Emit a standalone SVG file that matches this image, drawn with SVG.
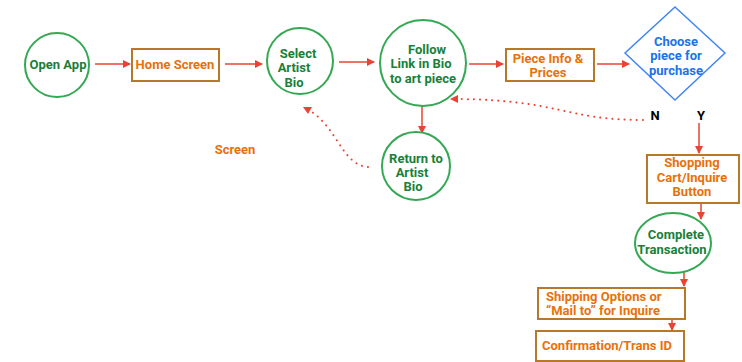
<svg xmlns="http://www.w3.org/2000/svg" width="742" height="362" viewBox="0 0 742 362">
<defs>
<marker id="ah" markerWidth="10" markerHeight="10" refX="7" refY="4" orient="auto" markerUnits="userSpaceOnUse">
<path d="M0,0 L8,4 L0,8 Z" fill="#ea4335"/>
</marker>
<style>
.t{font-family:Roboto,"Liberation Sans",sans-serif;font-weight:bold;font-size:13px;text-anchor:middle}
.g{fill:#188038}
.o{fill:#e8710a}
.b{fill:#1a73e8}
.k{fill:#000}
.circ{fill:#fff;stroke:#34a853;stroke-width:2}
.box{fill:#fff;stroke:#b8782a;stroke-width:2}
.dia{fill:#fff;stroke:#4285f4;stroke-width:1.5}
.ar{fill:none;stroke:#ea4335;stroke-width:1.5;marker-end:url(#ah)}
.dot{fill:none;stroke:#ea4335;stroke-width:2;stroke-dasharray:0.1 6;stroke-linecap:round}
</style>
</defs>
<rect width="742" height="362" fill="#fff"/>
<g id="connectors">
<line class="ar" x1="95" y1="64" x2="130" y2="64"/>
<line class="ar" x1="225" y1="64" x2="262" y2="64"/>
<line class="ar" x1="339" y1="62" x2="374" y2="62"/>
<line class="ar" x1="469" y1="64" x2="503" y2="64"/>
<line class="ar" x1="597" y1="64" x2="629" y2="64"/>
<line class="ar" x1="422" y1="106" x2="422" y2="133"/>
<line class="ar" x1="699" y1="123" x2="699" y2="153"/>
<line class="ar" x1="701" y1="204" x2="701" y2="219"/>
<line class="ar" x1="684" y1="268" x2="684" y2="286"/>
<line class="ar" x1="672" y1="314" x2="672" y2="330"/>
<path class="dot" d="M643,120 C565,120 560,100 458,99"/>
<path d="M450,99 L458,95 L458,103 Z" fill="#ea4335"/>
<path class="dot" d="M368,167 C342,165 338,128 309,110"/>
<path d="M303,107 L312,107 L308,114 Z" fill="#ea4335"/>
</g>
<g id="open-app">
<circle class="circ" cx="57" cy="65" r="32"/>
<text class="t g" x="58" y="69">Open App</text>
</g>
<g id="home-screen">
<rect class="box" x="132" y="49" width="87" height="32"/>
<text class="t o" x="175" y="69">Home Screen</text>
</g>
<g id="select-artist-bio">
<circle class="circ" cx="300" cy="61" r="33"/>
<text class="t g" x="298" y="58">Select</text>
<text class="t g" x="294" y="72">Artist</text>
<text class="t g" x="294" y="87">Bio</text>
</g>
<g id="follow-link">
<circle class="circ" cx="423" cy="63" r="43"/>
<text class="t g" x="427" y="54">Follow</text>
<text class="t g" x="421" y="68">Link in Bio</text>
<text class="t g" x="423" y="83">to art piece</text>
</g>
<g id="piece-info">
<rect class="box" x="506" y="49" width="88" height="32"/>
<text class="t o" x="548" y="63">Piece Info &amp;</text>
<text class="t o" x="548" y="77">Prices</text>
</g>
<g id="choose-piece">
<polygon class="dia" points="675,7 725,53 675,100 625,53"/>
<text class="t b" x="676" y="46">Choose</text>
<text class="t b" x="676" y="60">piece for</text>
<text class="t b" x="676" y="75">purchase</text>
</g>
<g id="labels">
<text class="t k" x="655" y="120">N</text>
<text class="t k" x="701" y="120">Y</text>
<text class="t o" x="235" y="154">Screen</text>
</g>
<g id="return-artist-bio">
<circle class="circ" cx="416" cy="166" r="34"/>
<text class="t g" x="416" y="163">Return to</text>
<text class="t g" x="412" y="177">Artist</text>
<text class="t g" x="413" y="191">Bio</text>
</g>
<g id="shopping-cart">
<rect class="box" x="647" y="155" width="92" height="48"/>
<text class="t o" x="692" y="167">Shopping</text>
<text class="t o" x="692" y="182">Cart/Inquire</text>
<text class="t o" x="692" y="196">Button</text>
</g>
<g id="complete-transaction">
<ellipse class="circ" cx="673" cy="243" rx="38" ry="30"/>
<text class="t g" x="676" y="239">Complete</text>
<text class="t g" x="672" y="254">Transaction</text>
</g>
<g id="shipping-options">
<rect class="box" x="538" y="288" width="147" height="31"/>
<text class="t o" x="546" y="301" style="text-anchor:start">Shipping Options or</text>
<text class="t o" x="546" y="315" style="text-anchor:start">“Mail to” for Inquire</text>
</g>
<g id="confirmation">
<rect class="box" x="536" y="331" width="148" height="30"/>
<text class="t o" x="542" y="350" style="text-anchor:start">Confirmation/Trans ID</text>
</g>
</svg>
